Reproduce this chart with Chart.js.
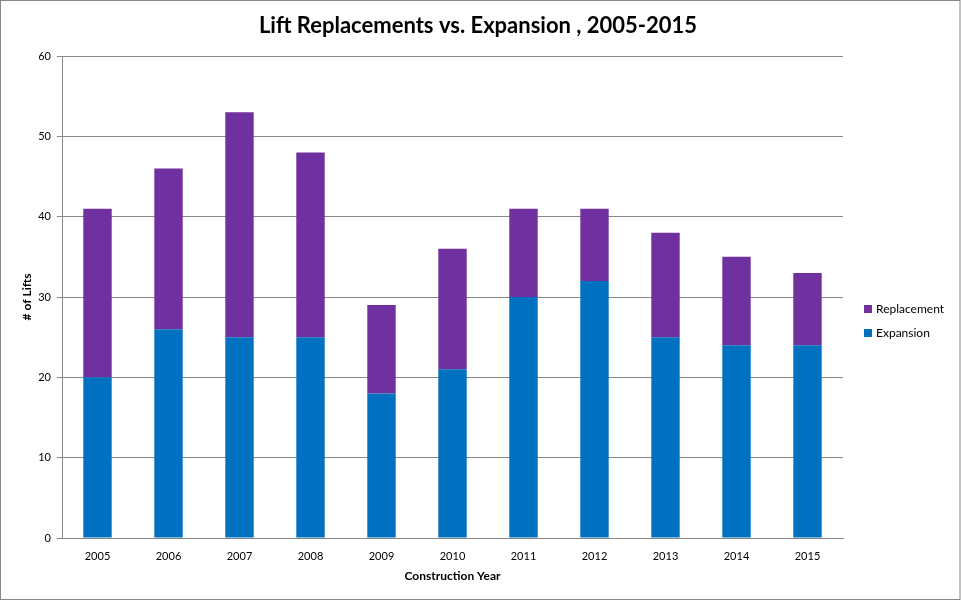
<!DOCTYPE html>
<html>
<head>
<meta charset="utf-8">
<script src="https://cdn.jsdelivr.net/npm/chart.js@4.4.1/dist/chart.umd.min.js"></script>
<style>
  html, body { margin: 0; padding: 0; background: #fff; }
  #wrap { position: relative; width: 961px; height: 601px; }
</style>
</head>
<body>
<div id="wrap"><canvas id="c"></canvas></div>
<script>
const years = ['2005','2006','2007','2008','2009','2010','2011','2012','2013','2014','2015'];
const expansion   = [20, 26, 25, 25, 18, 21, 30, 32, 25, 24, 24];
const replacement = [21, 20, 28, 23, 11, 15, 11,  9, 13, 11,  9];
const chartTitle = 'Lift Replacements vs. Expansion , 2005-2015';
const xTitle = 'Construction Year';
const yTitle = '# of Lifts';

const FONT = 'Lato, "Open Sans", "DejaVu Sans", sans-serif';
const GRID = '#868686';

const decor = {
  id: 'decor',
  afterDraw(chart) {
    const ctx = chart.ctx;
    ctx.save();
    // outer border
    ctx.strokeStyle = GRID;
    ctx.lineWidth = 1;
    ctx.strokeRect(0.5, 0.5, 959.5, 599);
    // title
    ctx.fillStyle = '#000';
    ctx.font = 'bold 22px ' + FONT;
    ctx.textAlign = 'center';
    ctx.textBaseline = 'middle';
    ctx.fillText(chartTitle, 478, 26);
    // legend (reversed order like reference)
    const items = chart.data.datasets.slice().reverse();
    ctx.font = '12px ' + FONT;
    ctx.textAlign = 'left';
    items.forEach((ds, i) => {
      const y = 309 + i * 24;
      ctx.fillStyle = ds.backgroundColor;
      ctx.fillRect(864, y - 4, 8, 8);
      ctx.fillStyle = '#000';
      ctx.fillText(ds.label, 876, y);
    });
    ctx.restore();
  }
};

new Chart(document.getElementById('c'), {
  type: 'bar',
  data: {
    labels: years,
    datasets: [
      { label: 'Expansion', data: expansion, backgroundColor: '#0070C0', barPercentage: 0.4, categoryPercentage: 1 },
      { label: 'Replacement', data: replacement, backgroundColor: '#7030A0', barPercentage: 0.4, categoryPercentage: 1 }
    ]
  },
  options: {
    responsive: true,
    maintainAspectRatio: false,
    devicePixelRatio: 1,
    animation: false,
    layout: { padding: { top: 56, right: 118, left: 0, bottom: 0 } },
    plugins: {
      legend: { display: false },
      title: { display: false },
      tooltip: { enabled: false }
    },
    scales: {
      x: {
        stacked: true,
        grid: { display: false, drawTicks: false },
        border: { display: true, color: GRID },
        ticks: { color: '#000', font: { family: FONT, size: 11 }, padding: 12, maxRotation: 0 },
        title: { display: true, text: xTitle, color: '#000', font: { family: FONT, size: 12, weight: 'bold' }, padding: { top: 0, bottom: 18 } },
        afterFit(s) { s.height = 63; }
      },
      y: {
        stacked: true,
        min: 0, max: 60,
        ticks: { stepSize: 10, color: '#000', font: { family: FONT, size: 11 }, padding: 6 },
        grid: { color: GRID, tickLength: 5, drawTicks: true },
        border: { display: true, color: GRID },
        title: { display: true, text: yTitle, color: '#000', font: { family: FONT, size: 12, weight: 'bold' }, padding: { top: 20, bottom: 0 } },
        afterFit(s) { s.width = 62; }
      }
    }
  },
  plugins: [decor]
});
</script>
</body>
</html>
